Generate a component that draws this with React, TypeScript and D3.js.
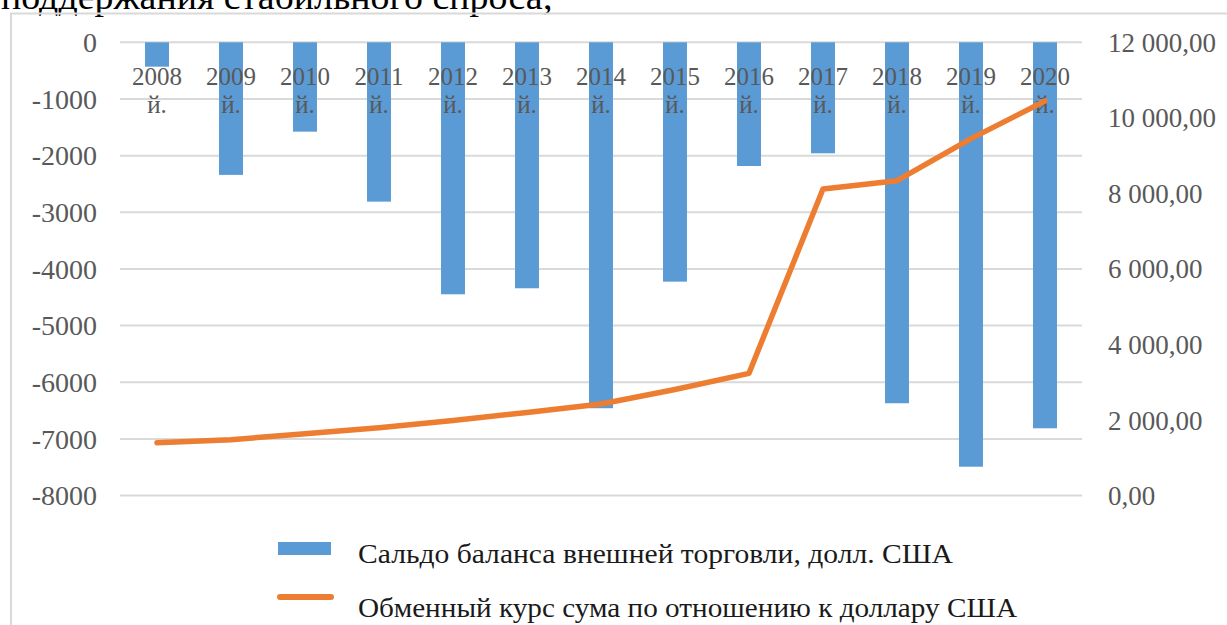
import React from "react";
import * as d3 from "d3";

// Years on the category axis
const years = ["2008", "2009", "2010", "2011", "2012", "2013", "2014", "2015", "2016", "2017", "2018", "2019", "2020"];
// Trade balance, USD (left axis)
const tradeBalance = [-430, -2340, -1577, -2812, -4447, -4341, -6458, -4224, -2183, -1959, -6370, -7490, -6812];
// Exchange rate, sum per USD (right axis)
const exchangeRate = [1400, 1480, 1640, 1795, 1990, 2200, 2425, 2810, 3237, 8116, 8336, 9450, 10445];
// Axis ticks
const leftTicks = [0, -1000, -2000, -3000, -4000, -5000, -6000, -7000, -8000];
const rightTicks = [0, 2000, 4000, 6000, 8000, 10000, 12000];
// Legend entries
const legendLabels = [
  "Сальдо баланса внешней торговли,  долл. США",
  "Обменный курс сума по отношению к доллару США",
];
const headingText = "поддержания стабильного спроса;";

const W = 1227;
const H = 625;
const BLUE = "#5b9bd5";
const ORANGE = "#ed7d31";
const GRID = "#d9d9d9";
const AXIS_TEXT = "#595959";
const SERIF: React.CSSProperties = { fontFamily: '"Liberation Serif", "Times New Roman", serif' };

const fmtRight = (v: number) => {
  const s = d3.format(",.2f")(v);
  return s.replace(/,/g, " ").replace(".", ",");
};

export default function App() {
  const plotLeft = 120;
  const plotRight = 1082;
  const plotTop = 42.3;
  const plotBottom = 495.6;

  const x = d3
    .scaleBand<string>()
    .domain(years)
    .range([plotLeft, plotRight])
    .paddingInner(0.676)
    .paddingOuter(0.338);
  const yL = d3.scaleLinear().domain([-8000, 0]).range([plotBottom, plotTop]);
  const yR = d3.scaleLinear().domain([0, 12000]).range([plotBottom, plotTop]);

  const line = d3
    .line<number>()
    .x((_, i) => (x(years[i]) as number) + x.bandwidth() / 2)
    .y((d) => yR(d));

  return (
    <svg
      width={W}
      height={H}
      style={{ position: "fixed", left: 0, top: 0, background: "#fff", ...SERIF }}
    >
      <rect x={0} y={0} width={W} height={H} fill="#fff" />
      {/* heading text above the chart frame */}
      <text x={1} y={9} fontSize={35} fill="#000" style={SERIF} textLength={552} lengthAdjust="spacingAndGlyphs">
        {headingText}
      </text>
      {/* chart frame */}
      <rect x={11} y={13.5} width={W + 20} height={H + 20} fill="none" stroke={GRID} strokeWidth={2} />

      {/* gridlines */}
      {leftTicks.map((t) => (
        <line key={t} x1={plotLeft} x2={plotRight} y1={yL(t)} y2={yL(t)} stroke={GRID} strokeWidth={2} />
      ))}

      {/* left axis labels */}
      {leftTicks.map((t) => (
        <text key={t} x={97} y={yL(t)} dy="0.35em" textAnchor="end" fontSize={28} fill={AXIS_TEXT} style={SERIF}>
          {t}
        </text>
      ))}

      {/* right axis labels */}
      {rightTicks.map((t) => (
        <text key={t} x={1108} y={yR(t)} dy="0.35em" textAnchor="start" fontSize={27} fill={AXIS_TEXT} style={SERIF}>
          {fmtRight(t)}
        </text>
      ))}

      {/* bars */}
      {tradeBalance.map((v, i) => (
        <rect
          key={years[i]}
          x={x(years[i])}
          y={yL(0)}
          width={x.bandwidth()}
          height={yL(v) - yL(0)}
          fill={BLUE}
        />
      ))}

      {/* category labels */}
      {years.map((yr) => {
        const cx = (x(yr) as number) + x.bandwidth() / 2;
        return (
          <g key={yr} fontSize={25} fill={AXIS_TEXT} textAnchor="middle" style={SERIF}>
            <text x={cx} y={85} style={SERIF}>{yr}</text>
            <text x={cx} y={113} style={SERIF}>й.</text>
          </g>
        );
      })}

      {/* exchange rate line */}
      <path
        d={line(exchangeRate) || ""}
        fill="none"
        stroke={ORANGE}
        strokeWidth={5.5}
        strokeLinejoin="round"
        strokeLinecap="round"
      />

      {/* legend */}
      <rect x={278} y={542} width={53} height={13} fill={BLUE} />
      <text x={358} y={563} fontSize={28} fill="#1a1a1a" style={SERIF} textLength={595} lengthAdjust="spacingAndGlyphs">
        {legendLabels[0]}
      </text>
      <line x1={280} x2={331} y1={597} y2={597} stroke={ORANGE} strokeWidth={6} strokeLinecap="round" />
      <text x={358} y={617} fontSize={28} fill="#1a1a1a" style={SERIF} textLength={659} lengthAdjust="spacingAndGlyphs">
        {legendLabels[1]}
      </text>
    </svg>
  );
}
